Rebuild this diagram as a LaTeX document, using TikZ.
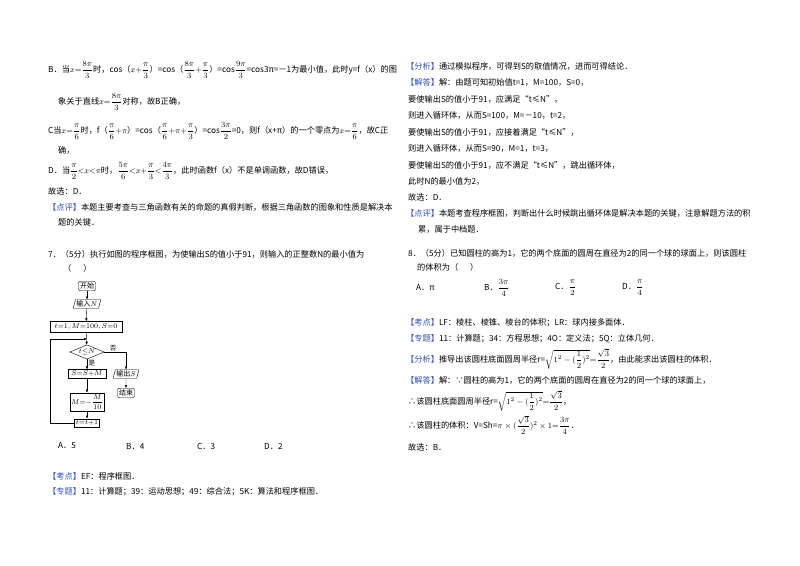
\documentclass[tikz,border=0pt]{standalone}
\usepackage{amsmath}
\usepackage{fontspec}
\setmainfont{Noto Sans CJK SC}
\usetikzlibrary{shapes.geometric,arrows.meta}
\definecolor{kb}{HTML}{2E4FC4}
\newcommand{\kw}[1]{\textcolor{kb}{【#1】}}
\newcommand{\fr}[2]{{\scriptstyle\dfrac{#1}{#2}}}
\begin{document}
\begin{tikzpicture}[x=1pt,y=-1pt,
  L/.style={anchor=west,inner sep=0pt,font=\fontsize{8.2}{9}\selectfont},
  fb/.style={draw,font=\fontsize{7}{7}\selectfont,inner sep=1.5pt},
  fl/.style={-{Latex[length=3pt,width=2.5pt]},thin}]
\useasboundingbox (0,0) rectangle (800,565);
\fill[white] (0,0) rectangle (800,565);
% left column
\node[L] (l1) at (48,70) {B．当$x{=}\fr{8\pi}{3}$时，cos（$x{+}\fr{\pi}{3}$）=cos（$\fr{8\pi}{3}{+}\fr{\pi}{3}$）=cos$\fr{9\pi}{3}$=cos3π=－1为最小值，此时y=f（x）的图};
\node[L] (l2) at (58,102) {象关于直线$x{=}\fr{8\pi}{3}$对称，故B正确，};
\node[L] (l3) at (48,131) {C当$x{=}\fr{\pi}{6}$时，f（$\fr{\pi}{6}{+}\pi$）=cos（$\fr{\pi}{6}{+}\pi{+}\fr{\pi}{3}$）=cos$\fr{3\pi}{2}$=0，则f（x+π）的一个零点为$x{=}\fr{\pi}{6}$，故C正};
\node[L] (l4) at (58,150) {确，};
\node[L] (l5) at (48,171) {D．当$\fr{\pi}{2}{<}x{<}\pi$时，$\fr{5\pi}{6}{<}x{+}\fr{\pi}{3}{<}\fr{4\pi}{3}$，此时函数f（x）不是单调函数，故D错误，};
\node[L] (l6) at (48,191) {故选：D．};
\node[L] (l7) at (48,207) {\kw{点评}本题主要考查与三角函数有关的命题的真假判断，根据三角函数的图象和性质是解决本};
\node[L] (l8) at (58,222) {题的关键．};
\node[L] (q7) at (48,254) {7．（5分）执行如图的程序框图，为使输出S的值小于91，则输入的正整数N的最小值为};
\node[L] (q7b) at (63,268) {（\quad\ \ ）};
% flowchart
\node[fb,rounded corners=2pt] (st) at (87,286) {开始};
\node[fb,trapezium,trapezium left angle=75,trapezium right angle=105,inner sep=1pt] (in) at (87,304) {输入$N$};
\node[fb,minimum width=72pt,minimum height=11pt] (init) at (86,327) {$t{=}1,M{=}100,S{=}0$};
\coordinate (j) at (87,339);
\node[fb,diamond,aspect=2.4,inner sep=0.5pt] (dm) at (87,352) {$t{\le}N$};
\node[fb,minimum width=38pt] (ss) at (87,374) {$S{=}S{+}M$};
\node[fb,minimum height=18pt] (mm) at (87,402) {$M{=}{-}\fr{M}{10}$};
\node[fb] (tt) at (87,423) {$t{=}t{+}1$};
\node[fb,trapezium,trapezium left angle=75,trapezium right angle=105,inner sep=1pt] (out) at (126,374) {输出$S$};
\node[fb,rounded corners=2pt] (en) at (126,393) {结束};
\draw[fl] (st) -- (in);
\draw[fl] (in) -- (init);
\draw[fl] (init) -- (dm);
\draw[fl] (dm) -- node[right,pos=0.4,inner sep=1.5pt,font=\fontsize{6.5}{7}\selectfont]{是} (ss);
\draw[fl] (ss) -- (mm);
\draw[fl] (mm) -- (tt);
\draw[fl] (tt.west) -- (50,423) -- (50,339) -- (j);
\draw[fl] (dm.east) -- node[above,pos=0.4,inner sep=1pt,font=\fontsize{6.5}{7}\selectfont]{否} (126,352) -- (out);
\draw[fl] (out) -- (en);
\node[L] (a7) at (58,446) {A．5};
\node[L] (b7) at (126,446) {B．4};
\node[L] (c7) at (197,446) {C．3};
\node[L] (d7) at (264,446) {D．2};
\node[L] (k7) at (48,476) {\kw{考点}EF：程序框图．};
\node[L] (z7) at (48,492) {\kw{专题}11：计算题；39：运动思想；49：综合法；5K：算法和程序框图．};
% right column
\node[L] (r1) at (406,66) {\kw{分析}通过模拟程序，可得到S的取值情况，进而可得结论．};
\node[L] (r2) at (406,82) {\kw{解答}解：由题可知初始值t=1，M=100，S=0，};
\node[L] (r3) at (408,99) {要使输出S的值小于91，应满足“t≤N”，};
\node[L] (r4) at (408,115) {则进入循环体，从而S=100，M=－10，t=2，};
\node[L] (r5) at (408,132) {要使输出S的值小于91，应接着满足“t≤N”，};
\node[L] (r6) at (408,148) {则进入循环体，从而S=90，M=1，t=3，};
\node[L] (r7) at (408,165) {要使输出S的值小于91，应不满足“t≤N”，跳出循环体，};
\node[L] (r8) at (408,181) {此时N的最小值为2，};
\node[L] (r9) at (408,197) {故选：D．};
\node[L] (r10) at (406,213) {\kw{点评}本题考查程序框图，判断出什么时候跳出循环体是解决本题的关键，注意解题方法的积};
\node[L] (r11) at (418,229) {累，属于中档题．};
\node[L] (q8) at (408,253) {8．（5分）已知圆柱的高为1，它的两个底面的圆周在直径为2的同一个球的球面上，则该圆柱};
\node[L] (q8b) at (417,267) {的体积为（\quad\ \ ）};
\node[L] (a8) at (416,288) {A．π};
\node[L] (b8) at (484,288) {B．$\fr{3\pi}{4}$};
\node[L] (c8) at (555,288) {C．$\fr{\pi}{2}$};
\node[L] (d8) at (622,288) {D．$\fr{\pi}{4}$};
\node[L] (k8) at (406,323) {\kw{考点}LF：棱柱、棱锥、棱台的体积；LR：球内接多面体．};
\node[L] (z8) at (406,339) {\kw{专题}11：计算题；34：方程思想；4O：定义法；5Q：立体几何．};
\node[L] (f8) at (406,359) {\kw{分析}推导出该圆柱底面圆周半径r=$\sqrt{1^2-(\fr12)^2}{=}\fr{\sqrt3}{2}$，由此能求出该圆柱的体积．};
\node[L] (j8) at (406,380) {\kw{解答}解：∵圆柱的高为1，它的两个底面的圆周在直径为2的同一个球的球面上，};
\node[L] (j9) at (408,401) {∴该圆柱底面圆周半径r=$\sqrt{1^2-(\fr12)^2}{=}\fr{\sqrt3}{2}$，};
\node[L] (j10) at (408,425) {∴该圆柱的体积：V=Sh=$\pi\times(\fr{\sqrt3}{2})^2\times1{=}\fr{3\pi}{4}$．};
\node[L] (j11) at (408,447) {故选：B．};
\end{tikzpicture}
\end{document}
